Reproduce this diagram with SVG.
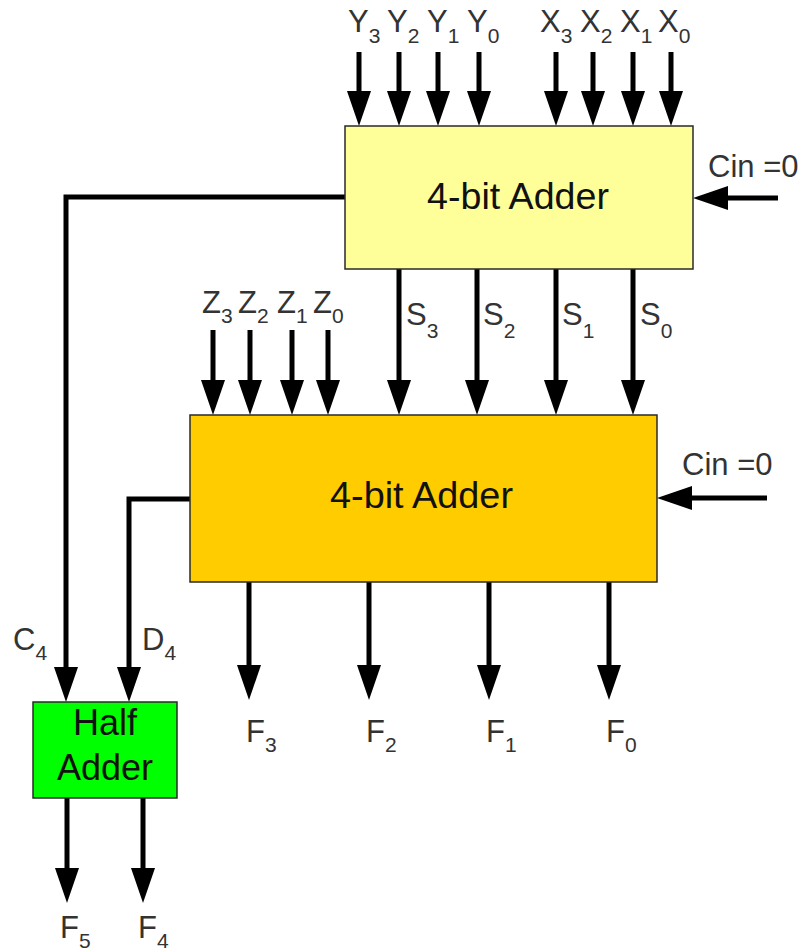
<svg xmlns="http://www.w3.org/2000/svg" width="801" height="952" viewBox="0 0 801 952">
<style>
.box{stroke:#2a2a2a;stroke-width:1.5}
.w{fill:none;stroke:#000;stroke-width:5;stroke-linejoin:miter}
.a{marker-end:url(#ah)}
.big{font-family:"Liberation Sans",Arial,sans-serif;font-size:37px;fill:#111}
.ha{font-family:"Liberation Sans",Arial,sans-serif;font-size:36px;fill:#111;text-anchor:middle}
.lb{font-family:"Liberation Sans",Arial,sans-serif;font-size:31px;fill:#333}
.sb{font-size:21px}
</style>
<defs>
<marker id="ah" markerUnits="userSpaceOnUse" orient="auto" refX="0" refY="0" markerWidth="40" markerHeight="30" overflow="visible">
<path d="M-25,-12 L10,0 L-25,12 Z" fill="#000"/>
</marker>
</defs>
<rect width="801" height="952" fill="#fff"/>
<g id="connectors">
<path class="w a" d="M359,52 V116"/>
<path class="w a" d="M399,52 V116"/>
<path class="w a" d="M438,52 V116"/>
<path class="w a" d="M479,52 V116"/>
<path class="w a" d="M556,52 V116"/>
<path class="w a" d="M593,52 V116"/>
<path class="w a" d="M633,52 V116"/>
<path class="w a" d="M671,52 V116"/>
<path class="w a" d="M778,198 H703"/>
<path class="w a" d="M345,197 H66 V692"/>
<path class="w a" d="M399,269 V405"/>
<path class="w a" d="M477,269 V405"/>
<path class="w a" d="M556,269 V405"/>
<path class="w a" d="M633,269 V405"/>
<path class="w a" d="M213,330 V405"/>
<path class="w a" d="M250,330 V405"/>
<path class="w a" d="M292,330 V405"/>
<path class="w a" d="M328,330 V405"/>
<path class="w a" d="M767,498 H667"/>
<path class="w a" d="M190,499 H129 V692"/>
<path class="w a" d="M249,582 V690"/>
<path class="w a" d="M369,582 V690"/>
<path class="w a" d="M489,582 V690"/>
<path class="w a" d="M609,582 V690"/>
<path class="w a" d="M67,798 V893"/>
<path class="w a" d="M143,798 V893"/>
</g>
<g id="adder1">
<rect class="box" x="345" y="126" width="348" height="143" fill="#FFFF99"/>
<text class="big" x="427" y="209" textLength="182" lengthAdjust="spacingAndGlyphs">4-bit Adder</text>
</g>
<g id="adder2">
<rect class="box" x="190" y="415" width="467" height="167" fill="#FFCC00"/>
<text class="big" x="330" y="508" textLength="183" lengthAdjust="spacingAndGlyphs">4-bit Adder</text>
</g>
<g id="halfadder">
<rect class="box" x="33" y="702" width="144" height="96" fill="#00FF00"/>
<text class="ha" x="105" y="735">Half</text>
<text class="ha" x="105" y="780">Adder</text>
</g>
<g id="labels">
<text class="lb" x="348" y="32">Y<tspan class="sb" dy="11">3</tspan></text>
<text class="lb" x="387" y="32">Y<tspan class="sb" dy="11">2</tspan></text>
<text class="lb" x="427" y="32">Y<tspan class="sb" dy="11">1</tspan></text>
<text class="lb" x="467" y="32">Y<tspan class="sb" dy="11">0</tspan></text>
<text class="lb" x="540" y="32">X<tspan class="sb" dy="11">3</tspan></text>
<text class="lb" x="580" y="32">X<tspan class="sb" dy="11">2</tspan></text>
<text class="lb" x="620" y="32">X<tspan class="sb" dy="11">1</tspan></text>
<text class="lb" x="658" y="32">X<tspan class="sb" dy="11">0</tspan></text>
<text class="lb" x="708" y="177">Cin =0</text>
<text class="lb" x="682" y="475">Cin =0</text>
<text class="lb" x="202" y="313">Z<tspan class="sb" dy="10">3</tspan></text>
<text class="lb" x="238" y="313">Z<tspan class="sb" dy="10">2</tspan></text>
<text class="lb" x="277" y="313">Z<tspan class="sb" dy="10">1</tspan></text>
<text class="lb" x="313" y="313">Z<tspan class="sb" dy="10">0</tspan></text>
<text class="lb" x="406" y="325">S<tspan class="sb" dy="13">3</tspan></text>
<text class="lb" x="483" y="325">S<tspan class="sb" dy="13">2</tspan></text>
<text class="lb" x="562" y="325">S<tspan class="sb" dy="13">1</tspan></text>
<text class="lb" x="640" y="325">S<tspan class="sb" dy="13">0</tspan></text>
<text class="lb" x="13" y="650">C<tspan class="sb" dy="10">4</tspan></text>
<text class="lb" x="142" y="650">D<tspan class="sb" dy="10">4</tspan></text>
<text class="lb" x="246" y="742">F<tspan class="sb" dy="10">3</tspan></text>
<text class="lb" x="366" y="742">F<tspan class="sb" dy="10">2</tspan></text>
<text class="lb" x="486" y="742">F<tspan class="sb" dy="10">1</tspan></text>
<text class="lb" x="606" y="742">F<tspan class="sb" dy="10">0</tspan></text>
<text class="lb" x="60" y="938">F<tspan class="sb" dy="10">5</tspan></text>
<text class="lb" x="138" y="938">F<tspan class="sb" dy="10">4</tspan></text>
</g>
</svg>
